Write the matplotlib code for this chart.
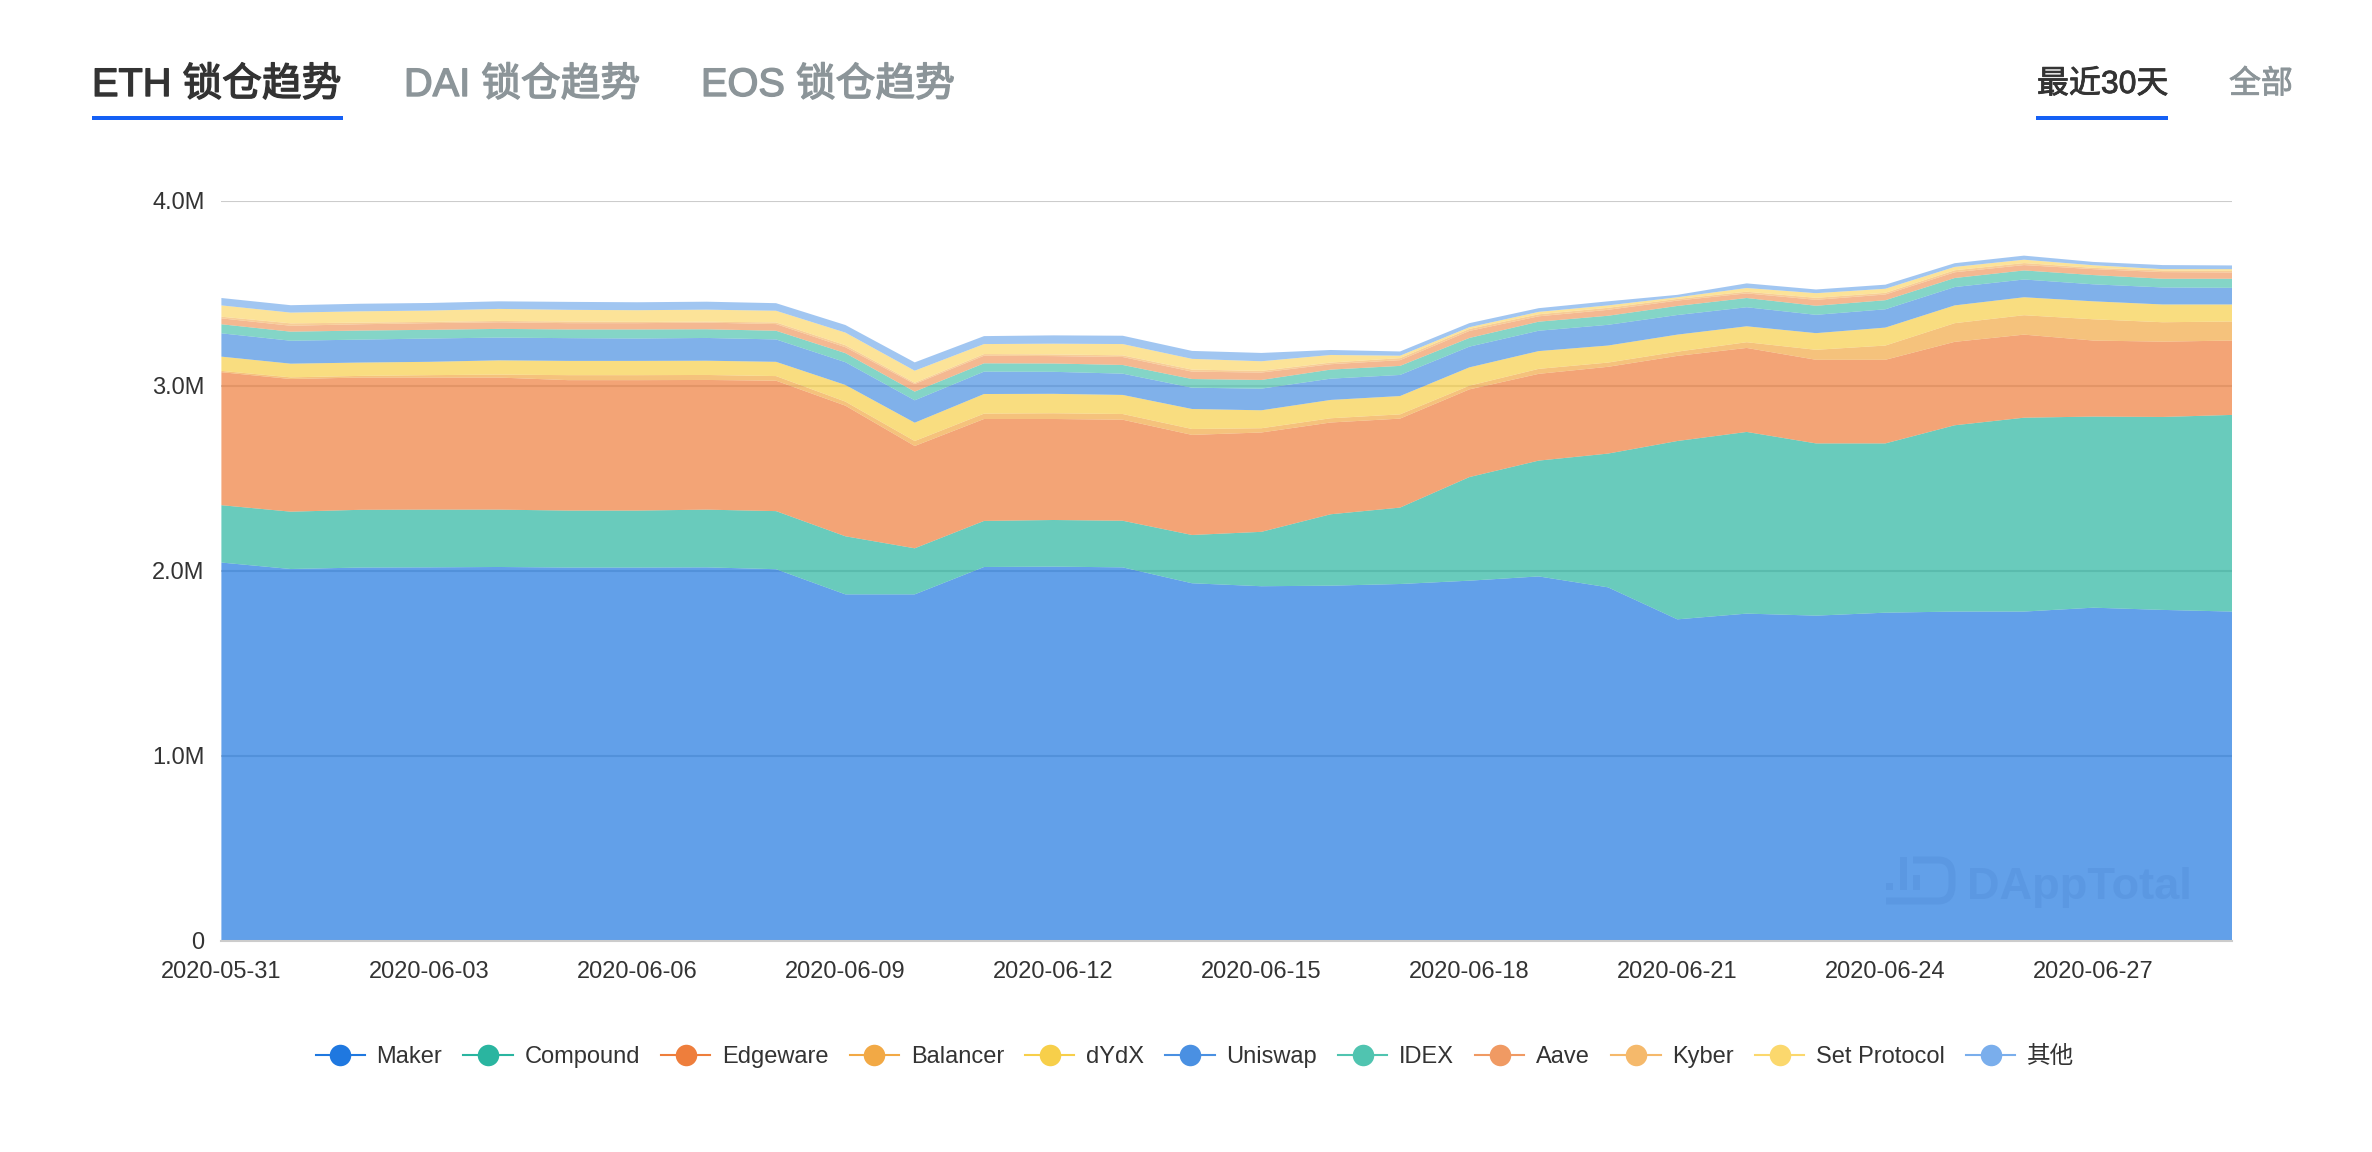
import matplotlib
matplotlib.use("Agg")
import matplotlib.pyplot as plt
import matplotlib.patheffects as pe
from matplotlib.lines import Line2D
from matplotlib.patches import Rectangle, PathPatch
from matplotlib.path import Path
from matplotlib.ticker import FuncFormatter

FONT = ['Liberation Sans', 'Noto Sans CJK SC']
plt.rcParams['font.family'] = FONT

dates = ['2020-05-31', '2020-06-01', '2020-06-02', '2020-06-03', '2020-06-04', '2020-06-05',
         '2020-06-06', '2020-06-07', '2020-06-08', '2020-06-09', '2020-06-10', '2020-06-11',
         '2020-06-12', '2020-06-13', '2020-06-14', '2020-06-15', '2020-06-16', '2020-06-17',
         '2020-06-18', '2020-06-19', '2020-06-20', '2020-06-21', '2020-06-22', '2020-06-23',
         '2020-06-24', '2020-06-25', '2020-06-26', '2020-06-27', '2020-06-28', '2020-06-29']

# values, in thousands of ETH
maker = [2043, 2008, 2016, 2017, 2019, 2016, 2016, 2017, 2007, 1871, 1871, 2019, 2021, 2017, 1931,
         1915, 1918, 1927, 1945, 1968, 1909, 1736, 1767, 1756, 1772, 1778, 1778, 1799, 1787, 1778]
compound = [310, 310, 312, 312, 310, 308, 308, 312, 314, 314, 249, 249, 252, 252, 261,
            294, 386, 413, 560, 626, 723, 964, 982, 931, 915, 1007, 1048, 1033, 1043, 1063]
edgeware = [719, 717, 715, 714, 714, 705, 705, 701, 705, 706, 553, 551, 546, 546, 541,
            537, 496, 481, 474, 469, 469, 460, 454, 452, 452, 451, 449, 411, 407, 402]
balancer = [7, 9, 9, 13, 16, 27, 27, 27, 25, 22, 27, 29, 31, 31, 32,
            23, 23, 23, 20, 27, 23, 23, 31, 54, 77, 101, 105, 115, 105, 103]
dydx = [77, 74, 72, 72, 77, 77, 77, 77, 77, 90, 99, 106, 105, 103, 108,
        97, 99, 99, 99, 96, 92, 92, 86, 90, 97, 96, 97, 97, 96, 92]
uniswap = [126, 124, 124, 126, 123, 123, 121, 123, 121, 123, 121, 121, 119, 115, 115,
           117, 115, 114, 112, 110, 112, 106, 103, 99, 99, 99, 96, 92, 92, 90]
idex = [49, 49, 49, 47, 47, 47, 49, 47, 47, 49, 47, 45, 45, 47, 47,
        47, 49, 49, 47, 49, 49, 49, 50, 49, 49, 49, 49, 50, 47, 49]
aave = [32, 32, 34, 36, 36, 34, 34, 36, 36, 32, 41, 41, 40, 43, 40,
        40, 29, 31, 38, 29, 32, 29, 25, 32, 31, 31, 29, 32, 36, 34]
kyber = [9, 13, 9, 7, 7, 9, 7, 5, 9, 11, 7, 9, 9, 9, 11,
         9, 9, 11, 11, 11, 11, 9, 9, 11, 9, 11, 11, 7, 9, 9]
set_protocol = [61, 58, 61, 61, 65, 63, 63, 65, 63, 68, 65, 54, 58, 61, 58,
                52, 41, 13, 9, 13, 13, 9, 20, 25, 22, 18, 18, 14, 7, 9]
other = [40, 40, 41, 41, 41, 43, 43, 43, 41, 41, 45, 43, 45, 45, 43,
         45, 27, 23, 22, 20, 22, 13, 25, 20, 22, 20, 22, 18, 22, 20]

names = ['Maker', 'Compound', 'Edgeware', 'Balancer', 'dYdX', 'Uniswap', 'IDEX', 'Aave', 'Kyber',
         'Set Protocol', '其他']
colors = ['#1F78E0', '#2AB5A0', '#EE7E3C', '#F2A945', '#F7CF4A', '#4A90E2', '#50C4B0', '#F09A63',
          '#F5B96B', '#FBD86D', '#7AAEEC']
series = [maker, compound, edgeware, balancer, dydx, uniswap, idex, aave, kyber, set_protocol, other]

W, H = 2372, 1152
fig = plt.figure(figsize=(W / 100, H / 100), dpi=100, facecolor='white')

# plot box in pixels: x 221..2232, y 200.5..940.5
ax = fig.add_axes([221.4 / W, 1 - 940.5 / H, (2232 - 221.4) / W, 740 / H])
x = list(range(len(dates)))
ax.stackplot(x, series, colors=colors, alpha=0.7, linewidth=0)
ax.set_xlim(0, len(dates) - 1)
ax.set_ylim(0, 4000)

ax.set_yticks([0, 1000, 2000, 3000, 4000])
ax.yaxis.set_major_formatter(FuncFormatter(lambda v, p: '0' if v == 0 else '%.1fM' % (v / 1000)))
ax.set_xticks(x[::3])
ax.set_xticklabels(dates[::3])
ax.tick_params(axis='y', length=0, pad=12, labelsize=17, labelcolor='#333333')
ax.tick_params(axis='x', length=0, pad=15, labelsize=17, labelcolor='#333333')

# grid sits under the see-through areas
ax.set_axisbelow(True)
ax.grid(axis='y', color='#CCCCCC', lw=1.5)
ax.grid(axis='x', visible=False)
for s in ['top', 'left', 'right']:
    ax.spines[s].set_visible(False)
ax.spines['bottom'].set_color('#CCCCCC')
ax.spines['bottom'].set_linewidth(1.5)

# legend
handles = [Line2D([0], [0], color=c, lw=1.5, marker='o', ms=15.5, mew=0) for c in colors]
leg = ax.legend(handles, names, ncol=len(names), frameon=False, fontsize=17,
                loc='center', bbox_to_anchor=((1195 - 221.4) / (2232 - 221.4), (940.5 - 1057) / 740),
                handlelength=2.08, handletextpad=0.5, columnspacing=0.9, borderpad=0, labelcolor='#333333')

# overlay in pixel coords for the tabs and the watermark
over = fig.add_axes([0, 0, 1, 1], zorder=5)
over.set_xlim(0, W)
over.set_ylim(H, 0)
over.axis('off')

tabs = [('ETH 锁仓趋势', 92, 28.6, '#333333', 1.0), ('DAI 锁仓趋势', 404, 28.6, '#8C9599', 1.0),
        ('EOS 锁仓趋势', 701, 28.6, '#8C9599', 1.0),
        ('最近30天', 2037, 23, '#333333', 0.6), ('全部', 2229, 23, '#8C9599', 0.6)]
for label, tx, size, col, stroke in tabs:
    t = over.text(tx, 85, label, fontsize=size, color=col, va='center', ha='left')
    t.set_path_effects([pe.withStroke(linewidth=stroke, foreground=col)])
over.add_patch(Rectangle((92, 116), 251, 4, color='#1560F5', lw=0))
over.add_patch(Rectangle((2036, 116), 132, 4, color='#1560F5', lw=0))

# DAppTotal watermark
mark = '#5B98E2'
over.text(1967, 899, 'DAppTotal', fontsize=32.5, fontweight='bold', color=mark, va='baseline', ha='left')
over.add_patch(Rectangle((1886, 883), 7, 7, color=mark, lw=0))
over.add_patch(Rectangle((1900, 857), 7, 33, color=mark, lw=0))
over.add_patch(Rectangle((1913, 875), 7, 15, color=mark, lw=0))
d_path = Path([(1913, 860), (1938, 860), (1952, 860), (1952, 875), (1952, 885), (1952, 901), (1938, 901), (1886, 901)],
              [Path.MOVETO, Path.LINETO, Path.CURVE3, Path.CURVE3, Path.LINETO, Path.CURVE3, Path.CURVE3, Path.LINETO])
over.add_patch(PathPatch(d_path, fill=False, edgecolor=mark, lw=5))

fig.savefig('out.png', dpi=100)
